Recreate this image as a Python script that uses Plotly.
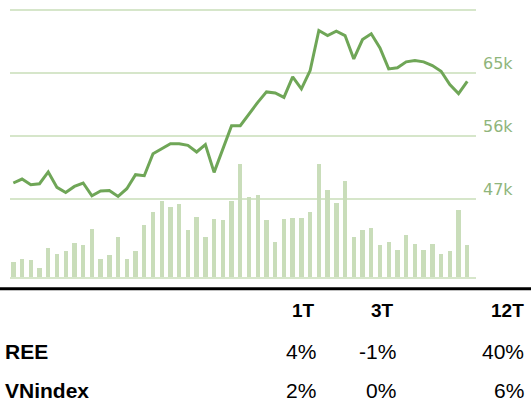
import plotly.graph_objects as go

W, H = 531, 407

weeks = list(range(1, 54))

price = [49240, 49810, 49000, 49140, 50820, 48610, 47890, 48750, 49240, 47420,
         48090, 48180, 47320, 48420, 50430, 50290, 53440, 54150, 54870, 54870,
         54630, 53680, 54730, 50760, 54010, 57450, 57450, 59130, 60790, 62280,
         62130, 61500, 64430, 62710, 65330, 71060, 70340, 70960, 70340, 67000,
         69770, 70590, 68580, 65570, 65720, 66580, 66760, 66580, 66050, 65230,
         63320, 62030, 63800]

volume = [150, 184, 167, 90, 290, 234, 260, 340, 324, 477,
          184, 217, 404, 184, 260, 524, 650, 757, 700, 727,
          467, 600, 400, 584, 574, 757, 1134, 800, 824, 567,
          350, 584, 594, 594, 647, 1127, 867, 740, 957, 400,
          474, 490, 317, 350, 274, 417, 334, 274, 334, 227,
          260, 667, 317]

price_ticks = [47000, 56000, 65000, 74000]
price_tick_labels = ["47k", "56k", "65k", ""]

periods = ["1T", "3T", "12T"]
ree_perf = ["4%", "-1%", "40%"]
vnindex_perf = ["2%", "0%", "6%"]
row_names = ["REE", "VNindex"]

LINE = "#6fa657"
BAR = "#c9ddba"
GRID = "#d6e6ca"
TICK = "#8fb57b"

fig = go.Figure()
fig.add_trace(go.Bar(x=weeks, y=volume, marker=dict(color=BAR, line=dict(width=0)),
                     width=0.5, yaxis="y", hoverinfo="skip"))
fig.add_trace(go.Scatter(x=weeks, y=price, mode="lines", yaxis="y2",
                         line=dict(color=LINE, width=3, shape="linear")))

x0, x1 = 10 / W, 476 / W
y0, y1 = 1 - 277 / H, 1 - 5 / H

fig.update_layout(
    width=W, height=H,
    margin=dict(l=0, r=0, t=0, b=0),
    paper_bgcolor="white", plot_bgcolor="white",
    showlegend=False,
    bargap=0,
    xaxis=dict(domain=[x0, x1], range=[0.62, 54.0], showgrid=False,
               showticklabels=False, zeroline=False, showline=True,
               linecolor=GRID, linewidth=1.5, ticks=""),
    yaxis=dict(domain=[y0, y1], range=[0, 2720], showgrid=False,
               showticklabels=False, zeroline=False, visible=False),
    yaxis2=dict(domain=[y0, y1], overlaying="y", side="right",
                range=[35790, 74715], tickvals=price_ticks, ticktext=price_tick_labels,
                showgrid=True, gridcolor=GRID, gridwidth=1.5, zeroline=False,
                tickfont=dict(family="DejaVu Sans", size=16, color=TICK),
                ticks="", ticklabelshift=-9, ticklabelstandoff=6),
)

# separator line
sep_y = 1 - 288.7 / H
fig.add_shape(type="line", xref="paper", yref="paper", x0=0, x1=1, y0=sep_y, y1=sep_y,
              line=dict(color="black", width=3))

font_h = dict(family="Liberation Sans, Arial", size=19, color="black")
font_b = dict(family="Liberation Sans, Arial", size=21, color="black")
font_r = dict(family="Liberation Sans, Arial", size=21, color="black")

head_x = [316.7, 395.7, 526]
val_x = [318, 398.3, 526]
head_y = 310
row_y = [351.7, 390]

for p, hx in zip(periods, head_x):
    fig.add_annotation(text="<b>%s</b>" % p, x=hx / W, y=1 - head_y / H, xref="paper", yref="paper",
                       xanchor="right", yanchor="middle", showarrow=False, font=font_h)

for name, vals, ry in zip(row_names, [ree_perf, vnindex_perf], row_y):
    fig.add_annotation(text="<b>%s</b>" % name, x=3 / W, y=1 - ry / H, xref="paper", yref="paper",
                       xanchor="left", yanchor="middle", showarrow=False, font=font_b)
    for v, vx in zip(vals, val_x):
        fig.add_annotation(text=v, x=vx / W, y=1 - ry / H, xref="paper", yref="paper",
                           xanchor="right", yanchor="middle", showarrow=False, font=font_r)

fig.write_html("out.html", config={"displayModeBar": False},
               post_script="document.body.style.margin='0';document.body.style.overflow='hidden';")
